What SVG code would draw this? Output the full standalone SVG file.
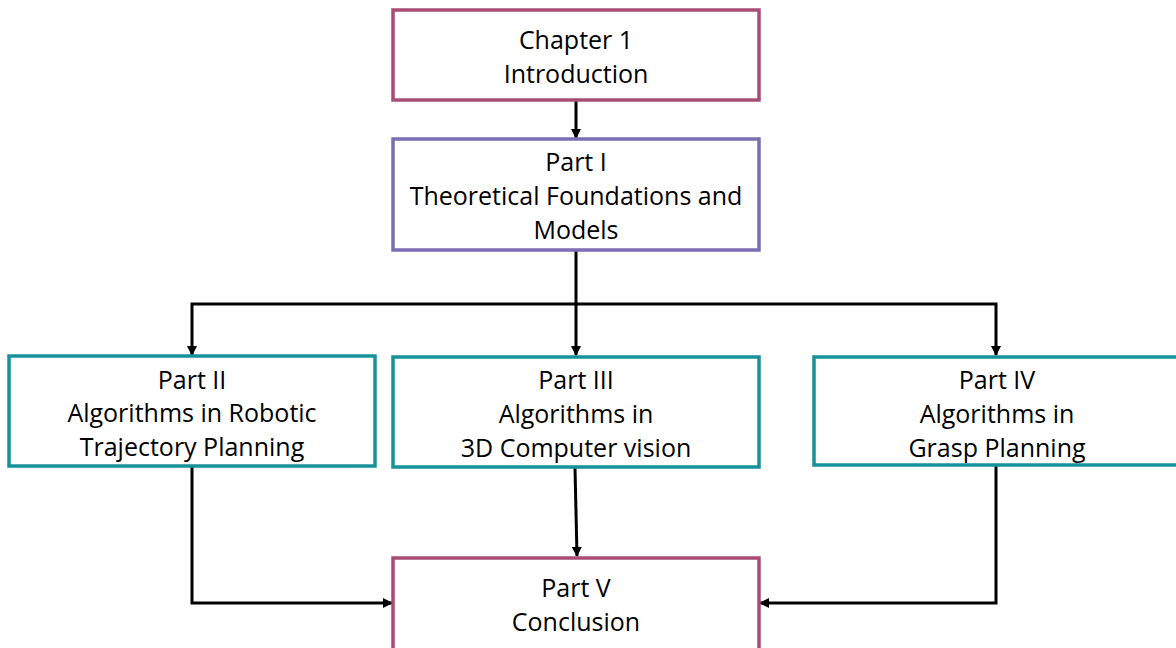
<svg xmlns="http://www.w3.org/2000/svg" width="1176" height="648" viewBox="0 0 1176 648">
<style>
.box{fill:#fff;stroke-width:3.5}
.red{stroke:#A94C75}
.pur{stroke:#7A6DB3}
.teal{stroke:#17919A}
text{font-family:"Open Sans","Liberation Sans",sans-serif;font-size:25px;fill:#000;text-anchor:middle}
.c{fill:none;stroke:#000;stroke-width:3}
</style>
<defs>
<marker id="ah" markerWidth="10" markerHeight="10" refX="9" refY="5" orient="auto" markerUnits="userSpaceOnUse">
<path d="M0,0 L10,5 L0,10 Z" fill="#000"/>
</marker>
</defs>
<rect width="1176" height="648" fill="#fff"/>
<g id="connectors">
<path class="c" d="M576,101 V138" marker-end="url(#ah)"/>
<path class="c" d="M576,251 V304 H192 V355" marker-end="url(#ah)"/>
<path class="c" d="M576,304 V355" marker-end="url(#ah)"/>
<path class="c" d="M576,304 H996 V355" marker-end="url(#ah)"/>
<path class="c" d="M192,467 V603 H392" marker-end="url(#ah)"/>
<path class="c" d="M575,468 L577,556" marker-end="url(#ah)"/>
<path class="c" d="M996,466 V603 H760" marker-end="url(#ah)"/>
</g>
<g id="ch1">
<rect class="box red" x="393" y="10" width="366" height="90"/>
<text x="576" y="49">Chapter 1</text>
<text x="576" y="83">Introduction</text>
</g>
<g id="p1">
<rect class="box pur" x="393" y="139" width="366" height="111"/>
<text x="576" y="171">Part I</text>
<text x="576" y="205">Theoretical Foundations and</text>
<text x="576" y="239">Models</text>
</g>
<g id="p2">
<rect class="box teal" x="9" y="356" width="366" height="110"/>
<text x="192" y="389">Part II</text>
<text x="192" y="422">Algorithms in Robotic</text>
<text x="192" y="456">Trajectory Planning</text>
</g>
<g id="p3">
<rect class="box teal" x="393" y="357" width="366" height="110"/>
<text x="576" y="389">Part III</text>
<text x="576" y="423">Algorithms in</text>
<text x="576" y="457">3D Computer vision</text>
</g>
<g id="p4">
<rect class="box teal" x="814" y="357" width="370" height="108"/>
<text x="997" y="389">Part IV</text>
<text x="997" y="423">Algorithms in</text>
<text x="997" y="457">Grasp Planning</text>
</g>
<g id="p5">
<rect class="box red" x="393" y="558" width="366" height="100"/>
<text x="576" y="597">Part V</text>
<text x="576" y="631">Conclusion</text>
</g>
</svg>
